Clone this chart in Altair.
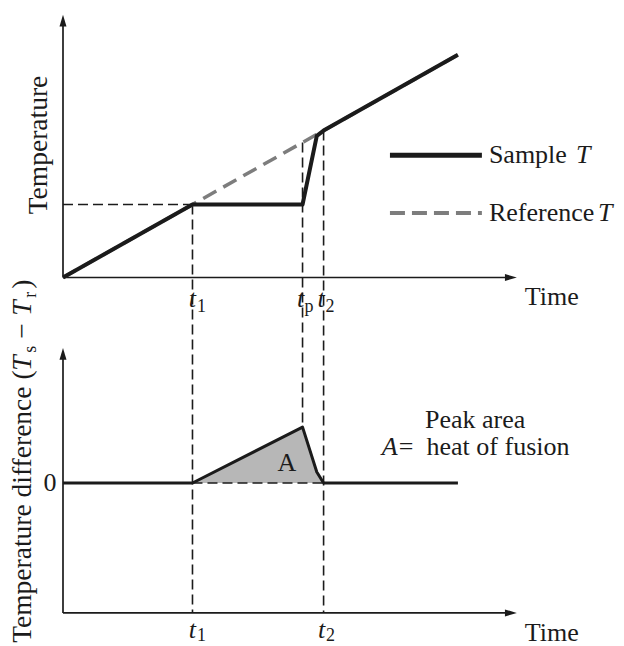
import altair as alt
import pandas as pd

FONT = "Liberation Serif"
INK = "#1b1b1b"
REF_GREY = "#7d7d7d"
FILL_GREY = "#b7b7b7"

# ---- characteristic times (arbitrary time units) ----
T1, TP, T2 = 4.0, 7.4, 8.05

# ---- upper panel: temperatures (arbitrary units) ----
sample_time = [0.0, 4.0, 7.4, 7.84, 8.05, 12.2]
sample_temp = [0.0, 2.0, 2.0, 3.88, 4.025, 6.1]
reference_time = [0.0, 12.2]
reference_temp = [0.0, 6.1]
T_MELT = 2.0
T_REF_AT_TP = 3.7
T_REF_AT_T2 = 4.025

# ---- lower panel: temperature difference Ts - Tr ----
diff_time = [0.0, 4.0, 7.4, 7.84, 8.05, 12.2]
diff_value = [0.0, 0.0, 1.53, 0.30, 0.0, 0.0]
PEAK = 1.53

# ---- frame of the two panels ----
X_AXIS_END = 14.02
TOP_Y_AXIS_END = 7.2
LOW_Y_MIN, LOW_Y_MAX = -3.56, 3.70
TOP_BASE = 5.63  # upper panel origin, above the lower panel's zero line
X_DOMAIN = [-1.946, 17.33]
Y_DOMAIN = [-4.466, 13.233]

# legend of the upper panel
legend_x = [10.1, 12.94]
legend_sample_y = 3.35
legend_ref_y = 1.77


def X(field="x"):
    return alt.X(f"{field}:Q", scale=alt.Scale(domain=X_DOMAIN, nice=False, zero=False), axis=None)


def Y(field="y"):
    return alt.Y(f"{field}:Q", scale=alt.Scale(domain=Y_DOMAIN, nice=False, zero=False), axis=None)


def polyline(xs, ys, **mark):
    df = pd.DataFrame({"x": xs, "y": ys, "i": range(len(xs))})
    return alt.Chart(df).mark_line(**mark).encode(x=X(), y=Y(), order="i:Q")


def hrule(x0, x1, y, **mark):
    df = pd.DataFrame({"x": [x0], "x2": [x1], "y": [y]})
    return alt.Chart(df).mark_rule(**mark).encode(x=X(), x2="x2:Q", y=Y())


def vrule(x, y0, y1, **mark):
    df = pd.DataFrame({"x": [x], "y": [y0], "y2": [y1]})
    return alt.Chart(df).mark_rule(**mark).encode(x=X(), y=Y(), y2="y2:Q")


def label(x, y, text, **mark):
    df = pd.DataFrame({"x": [x], "y": [y], "text": [text]})
    kw = dict(font=FONT, fontSize=26, color=INK)
    kw.update(mark)
    return alt.Chart(df).mark_text(**kw).encode(x=X(), y=Y(), text="text:N")


ARROW_UP = "M0,0L0.5,1.7L-0.5,1.7Z"
ARROW_RIGHT = "M0,0L-1.7,-0.5L-1.7,0.5Z"


def arrow(x, y, shape):
    df = pd.DataFrame({"x": [x], "y": [y]})
    return alt.Chart(df).mark_point(
        shape=shape, size=196, filled=True, color=INK, opacity=1, strokeWidth=0
    ).encode(x=X(), y=Y())


axis_style = dict(color=INK, strokeWidth=1.7)
guide_style = dict(color=INK, strokeWidth=1.6, strokeDash=[10, 5])

layers = []

# ---------- axes ----------
layers += [
    vrule(0, TOP_BASE, TOP_BASE + TOP_Y_AXIS_END - 0.2, **axis_style),
    hrule(0, X_AXIS_END - 0.2, TOP_BASE, **axis_style),
    vrule(0, LOW_Y_MIN, LOW_Y_MAX - 0.2, **axis_style),
    hrule(0, X_AXIS_END - 0.2, LOW_Y_MIN, **axis_style),
    arrow(0, TOP_BASE + TOP_Y_AXIS_END, ARROW_UP),
    arrow(X_AXIS_END, TOP_BASE, ARROW_RIGHT),
    arrow(0, LOW_Y_MAX, ARROW_UP),
    arrow(X_AXIS_END, LOW_Y_MIN, ARROW_RIGHT),
]

# ---------- dashed guide lines ----------
layers += [
    hrule(0, T1, TOP_BASE + T_MELT, **guide_style),
    vrule(T1, TOP_BASE + T_MELT, LOW_Y_MIN, **guide_style),
    vrule(TP, TOP_BASE + T_REF_AT_TP, PEAK, **guide_style),
    vrule(T2, TOP_BASE + T_REF_AT_T2, LOW_Y_MIN, **guide_style),
]

# ---------- upper panel curves ----------
layers += [
    polyline(reference_time, [TOP_BASE + v for v in reference_temp],
             color=REF_GREY, strokeWidth=3.5, strokeDash=[15, 8]),
    polyline(sample_time, [TOP_BASE + v for v in sample_temp],
             color=INK, strokeWidth=4, strokeJoin="round"),
]

# legend
layers += [
    hrule(legend_x[0], legend_x[1], TOP_BASE + legend_sample_y, color=INK, strokeWidth=5),
    hrule(legend_x[0], legend_x[1], TOP_BASE + legend_ref_y, color=REF_GREY,
          strokeWidth=4, strokeDash=[15, 7]),
    label(legend_x[1], TOP_BASE + legend_sample_y, "Sample", align="left", baseline="middle", dx=7),
    label(legend_x[1], TOP_BASE + legend_sample_y, "T", align="left", baseline="middle",
          dx=94, fontStyle="italic"),
    label(legend_x[1], TOP_BASE + legend_ref_y, "Reference", align="left", baseline="middle", dx=7),
    label(legend_x[1], TOP_BASE + legend_ref_y, "T", align="left", baseline="middle",
          dx=116, fontStyle="italic"),
]

# ---------- lower panel ----------
area_df = pd.DataFrame({"x": diff_time[1:5], "y": diff_value[1:5], "y2": [0.0] * 4})
layers += [
    alt.Chart(area_df).mark_area(color=FILL_GREY, opacity=1).encode(x=X(), y=Y(), y2="y2:Q"),
    hrule(T1, T2, 0, **guide_style),
    polyline(diff_time, diff_value, color=INK, strokeWidth=3, strokeJoin="round"),
    label(6.92, 0.55, "A", baseline="middle"),
    label(0, 0, "0", align="center", baseline="middle", dx=-13),
    label(12.73, 1.73, "Peak area", align="center", baseline="middle"),
    label(9.85, 0.99, "A", align="left", baseline="middle", fontStyle="italic"),
    label(9.85, 0.99, "=\u2002heat of fusion", align="left", baseline="middle", dx=17),
]


# ---------- time markers ----------
def time_marker(x, base, sub, dx_t, dx_sub, dy_t=29.5, dy_sub=34.5):
    return [
        label(x, base, "t", align="center", baseline="alphabetic", dy=dy_t, dx=dx_t,
              fontStyle="italic"),
        label(x, base, sub, align="left", baseline="alphabetic", dy=dy_sub, dx=dx_sub,
              fontSize=18),
    ]


layers += time_marker(T1, TOP_BASE, "1", 0, 4.5)
layers += time_marker(TP, TOP_BASE, "p", -2, 2)
layers += time_marker(T2, TOP_BASE, "2", -2.5, 2)
layers += time_marker(T1, LOW_Y_MIN, "1", 0, 4.5, dy_t=25, dy_sub=28)
layers += time_marker(T2, LOW_Y_MIN, "2", -2, 2.5, dy_t=25, dy_sub=28)

layers += [
    label(X_AXIS_END, TOP_BASE, "Time", align="left", baseline="alphabetic", dx=8, dy=27.5),
    label(X_AXIS_END, LOW_Y_MIN, "Time", align="left", baseline="alphabetic", dx=8, dy=28),
]

# ---------- vertical axis titles ----------
layers.append(label(-0.49, TOP_BASE + 3.63, "Temperature", angle=270, align="center",
                    baseline="alphabetic", fontSize=27.5))

title_x, title_y = -0.99, -4.38
title_parts = [
    ("Temperature difference (", 0, 0, 27.5, "normal"),
    ("T", 272, 0, 27.5, "italic"),
    ("s", 290, 5, 18, "normal"),
    ("\u2212", 304, 0, 27.5, "normal"),
    ("T", 327, 0, 27.5, "italic"),
    ("r", 345, 5, 18, "normal"),
    (")", 354, 0, 27.5, "normal"),
]
for text, dx, dy, size, style in title_parts:
    layers.append(label(title_x, title_y, text, angle=270, align="left", baseline="alphabetic",
                        dx=dx, dy=dy, fontSize=size, fontStyle=style))

chart = alt.layer(*layers).properties(
    width=624, height=646, padding=0, autosize=alt.AutoSizeParams(type="none")
).configure_view(stroke=None)

chart.save("out.html", embed_options={"renderer": "svg", "actions": False})
